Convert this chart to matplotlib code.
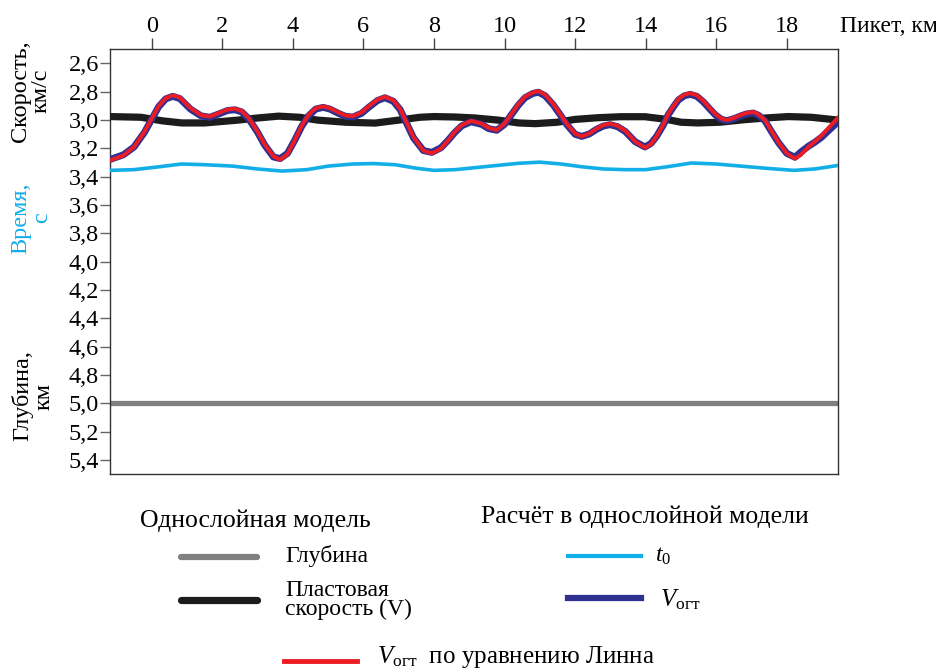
import matplotlib
matplotlib.use('Agg')
import matplotlib.pyplot as plt

plt.rcParams['font.family'] = ['Liberation Serif', 'DejaVu Serif']
plt.rcParams['mathtext.fontset'] = 'custom'
plt.rcParams['mathtext.rm'] = 'Liberation Serif'
plt.rcParams['mathtext.it'] = 'Liberation Serif:italic'

# Пикеты, км (общие для кривых Vогт)
x_v = [-1.18, -0.8, -0.5, -0.2, 0.0, 0.2, 0.4, 0.6, 0.8, 1.1, 1.4, 1.65, 1.9, 2.15, 2.36, 2.55,
       2.75, 3.0, 3.2, 3.45, 3.64, 3.85, 4.06, 4.25, 4.44, 4.65, 4.86, 5.05, 5.29, 5.5, 5.71,
       5.95, 6.14, 6.4, 6.61, 6.85, 7.04, 7.25, 7.42, 7.7, 7.94, 8.2, 8.41, 8.6, 8.79, 9.05,
       9.35, 9.55, 9.78, 10.0, 10.2, 10.4, 10.58, 10.8, 10.96, 11.15, 11.38, 11.6, 11.76, 12.0,
       12.19, 12.4, 12.61, 12.8, 12.99, 13.2, 13.42, 13.7, 13.98, 14.15, 14.31, 14.5, 14.64,
       14.8, 14.93, 15.1, 15.26, 15.45, 15.63, 15.8, 15.97, 16.15, 16.3, 16.5, 16.68, 16.85,
       17.05, 17.2, 17.38, 17.55, 17.76, 18.0, 18.23, 18.4, 18.61, 18.8, 18.99, 19.2, 19.46]

# Vогт по уравнению Линна (красная)
v_linn = [3.285, 3.25, 3.19, 3.08, 2.99, 2.90, 2.845, 2.825, 2.84, 2.915, 2.965, 2.975, 2.95,
          2.925, 2.92, 2.935, 2.985, 3.08, 3.17, 3.255, 3.28, 3.24, 3.14, 3.04, 2.965, 2.915,
          2.903, 2.915, 2.945, 2.968, 2.972, 2.945, 2.905, 2.855, 2.835, 2.86, 2.92, 3.03, 3.12,
          3.215, 3.235, 3.2, 3.14, 3.08, 3.035, 3.005, 3.025, 3.055, 3.07, 3.025, 2.955, 2.885,
          2.835, 2.805, 2.795, 2.82, 2.885, 2.965, 3.025, 3.095, 3.115, 3.095, 3.06, 3.035, 3.025,
          3.04, 3.075, 3.15, 3.195, 3.17, 3.115, 3.03, 2.955, 2.895, 2.85, 2.82, 2.81, 2.825,
          2.862, 2.91, 2.955, 2.99, 3.0, 2.985, 2.965, 2.95, 2.943, 2.96, 3.0, 3.07, 3.155, 3.235,
          3.272, 3.245, 3.19, 3.15, 3.108, 3.05, 2.98]

# Vогт, расчёт в однослойной модели (синяя)
v_ogt = [3.278, 3.245, 3.19, 3.085, 2.995, 2.905, 2.85, 2.832, 2.848, 2.922, 2.97, 2.98, 2.957,
         2.932, 2.927, 2.942, 2.99, 3.085, 3.175, 3.26, 3.272, 3.235, 3.14, 3.045, 2.972, 2.922,
         2.91, 2.922, 2.952, 2.974, 2.978, 2.952, 2.912, 2.862, 2.842, 2.867, 2.925, 3.035, 3.125,
         3.215, 3.228, 3.195, 3.14, 3.085, 3.04, 3.012, 3.03, 3.06, 3.072, 3.03, 2.96, 2.892,
         2.842, 2.812, 2.803, 2.828, 2.892, 2.97, 3.03, 3.1, 3.115, 3.098, 3.065, 3.042, 3.032,
         3.046, 3.08, 3.152, 3.19, 3.165, 3.115, 3.035, 2.962, 2.902, 2.857, 2.828, 2.818, 2.832,
         2.87, 2.917, 2.962, 2.995, 3.004, 2.99, 2.972, 2.957, 2.95, 2.966, 3.005, 3.075, 3.158,
         3.235, 3.262, 3.225, 3.185, 3.155, 3.12, 3.07, 3.01]

# Пластовая скорость V
x_plast = [-1.18, -0.3, 0.3, 0.85, 1.5, 2.45, 3.0, 3.6, 4.2, 4.7, 5.5, 6.33, 7.0, 7.6, 8.0,
           8.6, 9.16, 9.82, 10.4, 10.87, 11.5, 12.0, 12.65, 13.3, 13.98, 14.6, 15.0, 15.48,
           16.1, 16.8, 17.4, 18.04, 18.7, 19.46]
v_plast = [2.975, 2.98, 3.005, 3.02, 3.02, 3.0, 2.985, 2.972, 2.98, 3.0, 3.015, 3.021, 3.0,
           2.98, 2.975, 2.978, 2.985, 3.0, 3.02, 3.025, 3.015, 2.995, 2.983, 2.976, 2.976,
           2.995, 3.015, 3.02, 3.015, 2.997, 2.985, 2.975, 2.98, 3.0]

# Время t0, с
x_t0 = [-1.18, -0.5, 0.2, 0.85, 1.5, 2.3, 3.0, 3.7, 4.4, 5.0, 5.7, 6.3, 6.9, 7.5, 8.0, 8.6,
        9.2, 9.8, 10.4, 11.0, 11.6, 12.2, 12.8, 13.4, 14.0, 14.6, 15.3, 16.0, 16.7, 17.4,
        18.2, 18.8, 19.46]
t0 = [3.355, 3.35, 3.33, 3.31, 3.315, 3.325, 3.345, 3.36, 3.35, 3.325, 3.31, 3.307, 3.315,
      3.34, 3.355, 3.35, 3.335, 3.32, 3.305, 3.297, 3.31, 3.33, 3.345, 3.35, 3.35, 3.33,
      3.303, 3.31, 3.325, 3.34, 3.355, 3.345, 3.32]

# Глубина, км
x_depth = [-1.18, 19.46]
depth = [5.0, 5.0]

x_ticks = [0, 2, 4, 6, 8, 10, 12, 14, 16, 18]
y_ticks = [2.6, 2.8, 3.0, 3.2, 3.4, 3.6, 3.8, 4.0, 4.2, 4.4, 4.6, 4.8, 5.0, 5.2, 5.4]
y_labels = [f'{v:.1f}'.replace('.', ',') for v in y_ticks]

c_gray = '#808080'
c_black = '#1c1c1c'
c_cyan = '#12aee8'
c_blue = '#2e3192'
c_red = '#ec1c24'

fig = plt.figure(figsize=(9.37, 6.72), dpi=100)
ax = fig.add_axes([0.1174, 0.2946, 0.7773, 0.632])

ax.plot(x_depth, depth, color=c_gray, lw=3.8, solid_capstyle='butt', zorder=2)
ax.plot(x_t0, t0, color=c_cyan, lw=2.6, zorder=3)
ax.plot(x_plast, v_plast, color=c_black, lw=5.2, zorder=4)
ax.plot(x_v, v_ogt, color=c_blue, lw=5.0, zorder=5)
ax.plot(x_v, v_linn, color=c_red, lw=2.8, zorder=6)

ax.set_xlim(-1.18, 19.46)
ax.set_ylim(5.5, 2.5)
ax.xaxis.tick_top()
ax.set_xticks(x_ticks)
ax.set_yticks(y_ticks)
ax.set_yticklabels(y_labels)
ax.tick_params(axis='x', direction='out', length=8, width=1, color='#444444',
               pad=1, labelsize=17.5)
ax.tick_params(axis='y', direction='out', length=7, width=1, color='#666666',
               pad=1, labelsize=17.5)
for s in ax.spines.values():
    s.set_color('#333333')
    s.set_linewidth(1.0)

# подписи осей
fig.text(840 / 937, 1 - 26 / 672, 'Пикет, км', fontsize=17, ha='left', va='center')
fig.text(31 / 937, 1 - 91 / 672, 'Скорость,\nкм/с', fontsize=17.5, rotation=90,
         ha='center', va='center', linespacing=1.0, multialignment='center')
fig.text(31 / 937, 1 - 218 / 672, 'Время,\nс', fontsize=17.5, rotation=90, color=c_cyan,
         ha='center', va='center', linespacing=1.0, multialignment='center')
fig.text(33 / 937, 1 - 396 / 672, 'Глубина,\nкм', fontsize=17.5, rotation=90,
         ha='center', va='center', linespacing=1.0, multialignment='center')

# легенда (в пикселях рисунка)
lg = fig.add_axes([0, 0, 1, 1], facecolor='none')
lg.set_xlim(0, 937)
lg.set_ylim(672, 0)
lg.axis('off')

lg.text(140, 521, 'Однослойная модель', fontsize=18.5, ha='left', va='center')
lg.plot([181, 257], [557, 557], color=c_gray, lw=4.5, solid_capstyle='round')
lg.text(285, 556, 'Глубина', fontsize=17, ha='left', va='center')
lg.plot([181, 257], [600, 600], color=c_black, lw=5.2, solid_capstyle='round')
lg.text(285, 600, 'Пластовая\nскорость (V)', fontsize=17, ha='left', va='center',
        linespacing=0.9)

lg.text(645, 517, 'Расчёт в однослойной модели', fontsize=18.5, ha='center', va='center')
lg.plot([568, 641], [556, 556], color=c_cyan, lw=3.0)
lg.text(655, 556, r'$t_{\mathit{0}}$', fontsize=17, ha='left', va='center')
lg.plot([568, 641], [598, 598], color=c_blue, lw=4.5)
lg.text(660, 600, r'$V_{\mathrm{огт}}$', fontsize=18, ha='left', va='center')

lg.plot([284, 357], [661, 661], color=c_red, lw=3.5)
lg.text(377, 657, r'$V_{\mathrm{огт}}$  по уравнению Линна', fontsize=18, ha='left',
        va='center')

fig.savefig('out.png', dpi=100)
